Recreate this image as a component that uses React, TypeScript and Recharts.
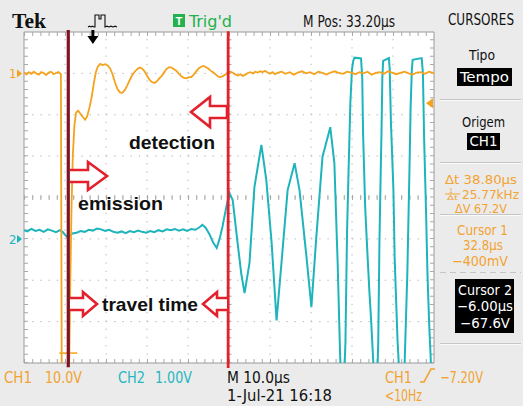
import React from 'react';
import { LineChart, Line, XAxis, YAxis, ReferenceLine, ReferenceArea, ReferenceDot } from 'recharts';

// ---- channel 1 (orange, 10 V/div), time in µs, value in volts ----
const ch1Time = [
  -16.8, -16.2, -15.6, -15.0, -14.4, -13.8, -13.2, -12.6, -12.0, -11.4, -10.8, -10.2, -9.6, -9.0, -8.4, -7.8,
  -7.6, -5.8, -5.5, -5.2, -4.9, -4.5, -4.1, -3.6, -3.0, -2.4, -1.9, -1.4, -0.8, -0.3, 0.2, 0.7, 1.2, 1.8,
  2.4, 3.0, 3.6, 4.2, 4.8, 5.4, 6.0, 6.6, 7.2, 7.8, 8.4, 9.0, 9.6, 10.2, 10.8, 11.4, 12.0, 12.6, 13.2,
  13.8, 14.4, 15.0, 15.6, 16.2, 16.8, 17.4, 18.0, 18.6, 19.2, 19.8, 20.4, 21.0, 21.6, 22.2, 22.8, 23.4,
  24.0, 24.6, 25.2, 25.8, 26.4, 27.0, 27.6, 28.2, 28.8, 29.4, 30.0, 30.6, 31.2, 31.8, 32.4, 33.0, 33.6,
  34.2, 34.8, 35.4, 36.0, 36.6, 37.2, 37.8, 38.4, 39.0, 39.6, 40.2, 40.8, 41.4, 42.0, 42.6, 43.2, 43.8,
  44.4, 45, 46, 47, 48, 49, 50, 51, 52, 53, 54, 55, 56, 57, 58, 59, 60, 61, 62, 63, 64, 65, 66, 67, 68,
  69, 70, 71, 72, 73, 74, 75, 76, 77, 78, 79, 80, 81, 82, 83, 83.2,
];
const ch1Volt = [
  0.2, -0.3, 0.3, -0.1, 0.4, 0.0, -0.3, 0.3, 0.1, -0.4, 0.2, 0.4, -0.2, 0.1, 0.3, -0.2,
  -72, -72, -50, -32, -20, -12.5, -9.5, -9.0, -9.8, -10.6, -11.2, -10.4, -8.1, -5.8, -2.6, 0.2, 1.6, 2.3,
  2.0, 2.2, 1.9, 1.2, -0.2, -2.2, -3.8, -4.6, -4.7, -4.0, -2.9, -1.6, -0.4, 0.4, 1.0, 1.4, 1.2, 0.5, -0.6,
  -1.5, -2.1, -2.3, -1.9, -1.2, -0.6, 0.3, 1.1, 1.5, 1.4, 1.0, 0.6, -0.1, -0.7, -1.1, -1.2, -0.9,
  -0.9, -0.3, 0.5, 1.2, 1.6, 1.8, 1.5, 1.1, 0.6, 0.2, -0.3, -0.8, -0.9, -0.6, -0.2, 0.3, 0.4,
  0.1, -0.3, -0.5, -0.2, -0.6, -0.3, 0.1, 0.3, 0.0, 0.4, 0.2, 0.5, 0.3, 0.6, 0.2, -0.1, 0.3,
  -0.2, 0.1, 0.4, -0.1, 0.3, -0.3, 0.2, 0.5, 0.0, 0.3, -0.2, 0.4, 0.1, -0.3, 0.2, 0.5, 0.1, -0.1, 0.4, 0.2, -0.2, 0.3, 0.0, 0.4, -0.3, 0.1,
  0.3, -0.1, 0.5, 0.2, -0.2, 0.1, 0.4, 0.0, -0.3, 0.2, 0.3, -0.1, 0.4, 0.1, 0.2,
];

// ---- channel 2 (cyan, 1 V/div) ----
const ch2Time = [
  -16.8, -16.0, -15.0, -14.0, -13.0, -12.0, -11.0, -10.0, -9.0, -8.0, -7.4, -6.8, -6.2, -5.6, -5.0, -4.0,
  -3.0, -2.0, -1.0, 0.0, 1.0, 2.0, 3.0, 4.0, 5.0, 6.0, 7.0, 8.0, 9.0, 10.0, 11.0, 12.0, 13.0, 14.0, 15.0,
  16.0, 17.0, 18.0, 19.0, 20.0, 21.0, 22.0, 23.0, 24.0, 25.0, 26.0, 26.7, 27.5, 28.4, 29.3, 30.2, 30.9,
  31.6, 32.5, 33.3, 34.1, 35.3, 36.2, 37.0, 38.2, 39.4, 41.1, 42.3, 43.6, 44.8, 46.0, 47.5, 49.2, 50.4,
  52.1, 53.3, 54.5, 56.0, 57.9, 58.9, 59.7, 60.3, 60.6, 61.2, 61.6, 62.0, 62.4, 62.8, 63.2, 63.5, 63.8,
  65.4, 65.7, 65.9, 66.4, 66.8, 67.4, 67.9, 68.4, 68.7, 69.3, 69.6, 69.9, 70.2, 70.4, 70.6, 70.8, 72.2,
  72.4, 72.7, 73.3, 73.6, 74.0, 74.3, 74.6, 74.8, 75.9, 76.1, 76.7, 77.2, 77.5, 77.8, 78.0, 80.2, 80.5,
  80.8, 81.3, 81.6, 82.0, 82.4, 82.6, 83.2,
];
const ch2Volt = [
  0.21, 0.18, 0.24, 0.19, 0.22, 0.17, 0.23, 0.20, 0.16, 0.21, 0.17, 0.10, 0.04, 0.08, 0.13, 0.15,
  0.19, 0.17, 0.22, 0.20, 0.25, 0.23, 0.19, 0.22, 0.17, 0.15, 0.18, 0.14, 0.19, 0.16, 0.20, 0.17, 0.15, 0.19, 0.16,
  0.21, 0.18, 0.23, 0.21, 0.24, 0.20, 0.23, 0.19, 0.24, 0.22, 0.28, 0.34, 0.27, 0.12, -0.08, -0.22, 0.0,
  0.29, 0.75, 1.11, 0.94, -0.10, -0.85, -1.31, -0.58, 1.25, 2.27, 1.42, -0.10, -1.97, -0.58, 1.18, 1.83, 1.18,
  -0.44, -1.65, 0.05, 1.98, 2.70, 1.83, -0.58, -2.8, -3.6, -3.6, -2.5, 0.2, 1.8, 3.3, 4.1, 4.3, 4.38,
  4.36, 3.9, 2.56, 0.8, -0.03, -1.2, -2.03, -3.0, -3.6, -3.6, -2.5, -0.03, 1.6, 2.6, 3.9, 4.3, 4.37,
  4.1, 2.8, 1.2, -0.44, -1.6, -2.44, -3.0, -3.6, -3.6, -2.8, -0.82, 1.6, 3.2, 4.1, 4.33, 4.37, 4.0,
  2.39, 0.5, -0.82, -2.0, -2.9, -3.6, -3.6,
];

// ---- scope settings / cursors ----
const ch1VoltsPerDiv = 10;
const ch2VoltsPerDiv = 1;
const ch1GroundDiv = 3;
const ch2GroundDiv = -1;
const horizPos = 33.2; // M Pos µs
const timePerDiv = 10;
const xMin = horizPos - 5 * timePerDiv;
const xMax = horizPos + 5 * timePerDiv;
const triggerTime = 0;
const triggerLevel = -7.2;
const cursor2Volt = -67.6;
const emissionTime = -6.0;
const detectionTime = 33.0;

const gridTimes = [1, 2, 3, 4, 5, 6, 7, 8, 9].map((k) => xMin + k * timePerDiv);
const gridDivs = [-3, -2, -1, 0, 1, 2, 3];

const ch1Rows = ch1Time.map((t, i) => ({ t, v: ch1GroundDiv + ch1Volt[i] / ch1VoltsPerDiv }));
const ch2Rows = ch2Time.map((t, i) => ({ t, v: ch2GroundDiv + ch2Volt[i] / ch2VoltsPerDiv }));

const ORANGE = '#f5a21c';
const ORANGE_TXT = '#f2a332';
const CYAN = '#1db4bc';
const CYAN_TXT = '#27b6c2';
const GREEN = '#22b14c';
const UI = "'Liberation Sans Narrow','DejaVu Sans Condensed','Roboto Condensed','Liberation Sans',Arial,sans-serif";
const BOLD = "'Liberation Sans',Arial,Helvetica,sans-serif";

type TP = { x: number; y: number; w: number; s?: number; fill?: string; a?: 'start' | 'middle' | 'end'; fw?: string | number; ff?: string; children: React.ReactNode };
const T = ({ x, y, w, s = 14, fill = '#111', a = 'start', fw = 'normal', ff = UI, children }: TP) => (
  <text x={x} y={y} textLength={w} lengthAdjust="spacingAndGlyphs" fontSize={s} fill={fill} textAnchor={a} fontWeight={fw} fontFamily={ff}>
    {children}
  </text>
);

const arrowStyle = { fill: '#ffffff', stroke: '#e3202c', strokeWidth: 2.6, strokeLinejoin: 'miter' as const };

export default function App() {
  return (
    <div style={{ position: 'fixed', left: 0, top: 0, width: 523, height: 406, background: '#ebebeb', overflow: 'hidden' }}>
      <LineChart width={523} height={406} margin={{ top: 32, left: 24, right: 89, bottom: 43 }}>
        <XAxis type="number" dataKey="t" domain={[xMin, xMax]} allowDataOverflow hide />
        <YAxis type="number" domain={[-4, 4]} allowDataOverflow hide />
        <ReferenceArea x1={xMin} x2={xMax} y1={-4} y2={4} fill="#ffffff" fillOpacity={1} stroke="#9a9a9a" strokeWidth={1} />
        {gridTimes.map((g) => (
          <ReferenceLine key={'gx' + g} x={g} stroke="#b4b4b4" strokeDasharray="1.3 6.975" />
        ))}
        {gridDivs.map((g) => (
          <ReferenceLine key={'gy' + g} y={g} stroke="#b4b4b4" strokeDasharray="1.3 6.9" />
        ))}
        {/* centre cross minor ticks */}
        <ReferenceLine y={0} stroke="#a8a8a8" strokeWidth={5} strokeDasharray="1 7.2" />
        <ReferenceLine x={horizPos} stroke="#a8a8a8" strokeWidth={5} strokeDasharray="1 7.275" />
        {/* border minor ticks */}
        <ReferenceLine y={3.952} stroke="#a8a8a8" strokeWidth={4} strokeDasharray="1 7.2" />
        <ReferenceLine y={-3.952} stroke="#a8a8a8" strokeWidth={4} strokeDasharray="1 7.2" />
        <ReferenceLine x={xMin + 0.49} stroke="#a8a8a8" strokeWidth={4} strokeDasharray="1 7.275" />
        <ReferenceLine x={xMax - 0.49} stroke="#a8a8a8" strokeWidth={4} strokeDasharray="1 7.275" />

        <Line data={ch2Rows} dataKey="v" type="linear" stroke={CYAN} strokeWidth={2} dot={false} isAnimationActive={false} />
        <Line data={ch1Rows} dataKey="v" type="linear" stroke={ORANGE} strokeWidth={1.8} dot={false} isAnimationActive={false} />

        {/* cursor 2 amplitude marker */}
        <ReferenceLine
          segment={[{ x: emissionTime - 2.2, y: ch1GroundDiv + cursor2Volt / ch1VoltsPerDiv }, { x: emissionTime + 2.2, y: ch1GroundDiv + cursor2Volt / ch1VoltsPerDiv }]}
          stroke={ORANGE}
          strokeWidth={1.5}
        />
        {/* annotation lines */}
        <ReferenceLine segment={[{ x: emissionTime, y: 4.05 }, { x: emissionTime, y: -4.1 }]} ifOverflow="visible" stroke="#7e1424" strokeWidth={3.2} />
        <ReferenceLine segment={[{ x: detectionTime, y: 4.02 }, { x: detectionTime, y: -4.12 }]} ifOverflow="visible" stroke="#e3202c" strokeWidth={2.8} />

        {/* ground markers */}
        <ReferenceDot
          x={xMin}
          y={ch1GroundDiv}
          r={4}
          ifOverflow="visible"
          shape={(p: any) => (
            <g>
              <text x={p.cx - 15} y={p.cy + 5} fontSize={13} fill={ORANGE} fontFamily={UI}>1</text>
              <path d={`M${p.cx - 7} ${p.cy - 4} L${p.cx - 2} ${p.cy} L${p.cx - 7} ${p.cy + 4} Z`} fill={ORANGE} />
            </g>
          )}
        />
        <ReferenceDot
          x={xMin}
          y={ch2GroundDiv}
          r={4}
          ifOverflow="visible"
          shape={(p: any) => (
            <g>
              <text x={p.cx - 15} y={p.cy + 5} fontSize={13} fill={CYAN} fontFamily={UI}>2</text>
              <path d={`M${p.cx - 7} ${p.cy - 4} L${p.cx - 2} ${p.cy} L${p.cx - 7} ${p.cy + 4} Z`} fill={CYAN} />
            </g>
          )}
        />
        {/* trigger level */}
        <ReferenceDot
          x={xMax}
          y={ch1GroundDiv + triggerLevel / ch1VoltsPerDiv}
          r={4}
          ifOverflow="visible"
          shape={(p: any) => <path d={`M${p.cx - 8} ${p.cy} L${p.cx - 1} ${p.cy - 5} L${p.cx - 1} ${p.cy + 5} Z`} fill={ORANGE} />}
        />
        {/* trigger position */}
        <ReferenceDot
          x={triggerTime}
          y={4}
          r={4}
          ifOverflow="visible"
          shape={(p: any) => (
            <g fill="#000">
              <rect x={p.cx - 1.5} y={p.cy - 2} width={3} height={7} />
              <path d={`M${p.cx - 5.5} ${p.cy + 4} L${p.cx + 5.5} ${p.cy + 4} L${p.cx} ${p.cy + 12} Z`} />
            </g>
          )}
        />
      </LineChart>

      <svg width={523} height={406} style={{ position: 'absolute', left: 0, top: 0, pointerEvents: 'none' }}>
        {/* top bar */}
        <T x={12} y={28} w={34} s={20} fw="bold" ff="'Liberation Serif','Times New Roman',serif">Tek</T>
        <path d="M88 27 l1.5 -0.8 l1.5 0.8 l1.5 -0.8 l1.5 0.8 L95 27 L95 15 L99 15 L99 19 L101 19 L101 15 L105 15 L105 27 l2 -0.8 l2 0.8 l2 -0.8 l2 0.8 l2 -0.8 l2 0.8" fill="none" stroke="#111" strokeWidth={1.1} />
        <rect x={173} y={14} width={12} height={13} fill={GREEN} />
        <T x={179} y={25} w={7} s={11} fill="#fff" a="middle" fw="bold" ff={BOLD}>T</T>
        <T x={189} y={27} w={43} s={15} fill={GREEN}>Trig'd</T>
        <T x={303} y={27} w={92} s={15}>M Pos: 33.20µs</T>
        <T x={448} y={25} w={66} s={15}>CURSORES</T>

        {/* right panel */}
        <g stroke="#c6c6c6" strokeWidth={1}>
          <line x1={440} y1={99.5} x2={521} y2={99.5} />
          <line x1={440} y1={162.5} x2={521} y2={162.5} />
          <line x1={440} y1={214.5} x2={521} y2={214.5} />
          <line x1={440} y1={272.5} x2={521} y2={272.5} strokeDasharray="6 4" />
          <line x1={440} y1={343.5} x2={521} y2={343.5} />
        </g>
        <g stroke="#fafafa" strokeWidth={1}>
          <line x1={440} y1={100.5} x2={521} y2={100.5} />
          <line x1={440} y1={163.5} x2={521} y2={163.5} />
          <line x1={440} y1={215.5} x2={521} y2={215.5} />
          <line x1={440} y1={344.5} x2={521} y2={344.5} />
        </g>
        <T x={482} y={60} w={26} a="middle">Tipo</T>
        <rect x={457} y={68} width={55} height={18} fill="#000" />
        <T x={484.5} y={82} w={49} a="middle" fill="#fff">Tempo</T>
        <T x={483.5} y={127} w={43} a="middle">Origem</T>
        <rect x={467} y={133} width={33} height={17} fill="#000" />
        <T x={483.5} y={146} w={28} a="middle" fill="#fff">CH1</T>

        <T x={445} y={184} w={72} s={13} fill={ORANGE_TXT}>Δt 38.80µs</T>
        <T x={449} y={193} w={4} s={6.5} fill={ORANGE_TXT}>1</T>
        <line x1={445} y1={194} x2={460} y2={194} stroke={ORANGE_TXT} strokeWidth={1} />
        <T x={447} y={200} w={11} s={6.5} fill={ORANGE_TXT}>Δt</T>
        <T x={462} y={199} w={57} s={13} fill={ORANGE_TXT}>25.77kHz</T>
        <T x={455} y={213} w={52} s={13} fill={ORANGE_TXT}>ΔV 67.2V</T>
        <T x={457} y={235} w={51} s={13.5} fill={ORANGE_TXT}>Cursor 1</T>
        <T x={463} y={250} w={40} s={13.5} fill={ORANGE_TXT}>32.8µs</T>
        <T x={452} y={266} w={56} s={13.5} fill={ORANGE_TXT}>−400mV</T>
        <rect x={455} y={279} width={59} height={54} fill="#000" />
        <T x={458} y={295} w={54} s={13.5} fill="#fff">Cursor 2</T>
        <T x={457} y={311} w={56} s={13.5} fill="#fff">−6.00µs</T>
        <T x={460} y={328} w={50} s={13.5} fill="#fff">−67.6V</T>

        {/* bottom status */}
        <T x={4} y={383} w={28} s={16} fill={ORANGE_TXT}>CH1</T>
        <T x={45} y={383} w={37} s={16} fill={ORANGE_TXT}>10.0V</T>
        <T x={118} y={383} w={27} s={16} fill={CYAN_TXT}>CH2</T>
        <T x={155} y={383} w={37} s={16} fill={CYAN_TXT}>1.00V</T>
        <T x={227} y={383} w={63} s={16}>M 10.0µs</T>
        <T x={227} y={401} w={105} s={16}>1-Jul-21 16:18</T>
        <T x={385} y={383} w={27} s={16} fill={ORANGE_TXT}>CH1</T>
        <path d="M420 382 h4 L431 369 h4" fill="none" stroke={ORANGE_TXT} strokeWidth={1.6} />
        <T x={440} y={383} w={43} s={16} fill={ORANGE_TXT}>−7.20V</T>
        <T x={385} y={401} w={37} s={16} fill={ORANGE_TXT}>&lt;10Hz</T>

        {/* annotations */}
        <path d="M191 112 L210 97 L210 106 L227 106 L227 118 L210 118 L210 127 Z" style={arrowStyle} />
        <path d="M70 170 L88 170 L88 162 L107 176 L88 190 L88 182 L70 182" style={arrowStyle} />
        <path d="M70 298 L83 298 L83 292 L97 304 L83 316 L83 310 L70 310" style={arrowStyle} />
        <path d="M227 298 L217 298 L217 292 L203 304 L217 316 L217 310 L227 310" style={arrowStyle} />
        <T x={129} y={149} w={86} s={19} fw="bold" ff={BOLD}>detection</T>
        <T x={78} y={210} w={85} s={19} fw="bold" ff={BOLD}>emission</T>
        <T x={102} y={311} w={96} s={19} fw="bold" ff={BOLD}>travel time</T>
      </svg>
    </div>
  );
}
